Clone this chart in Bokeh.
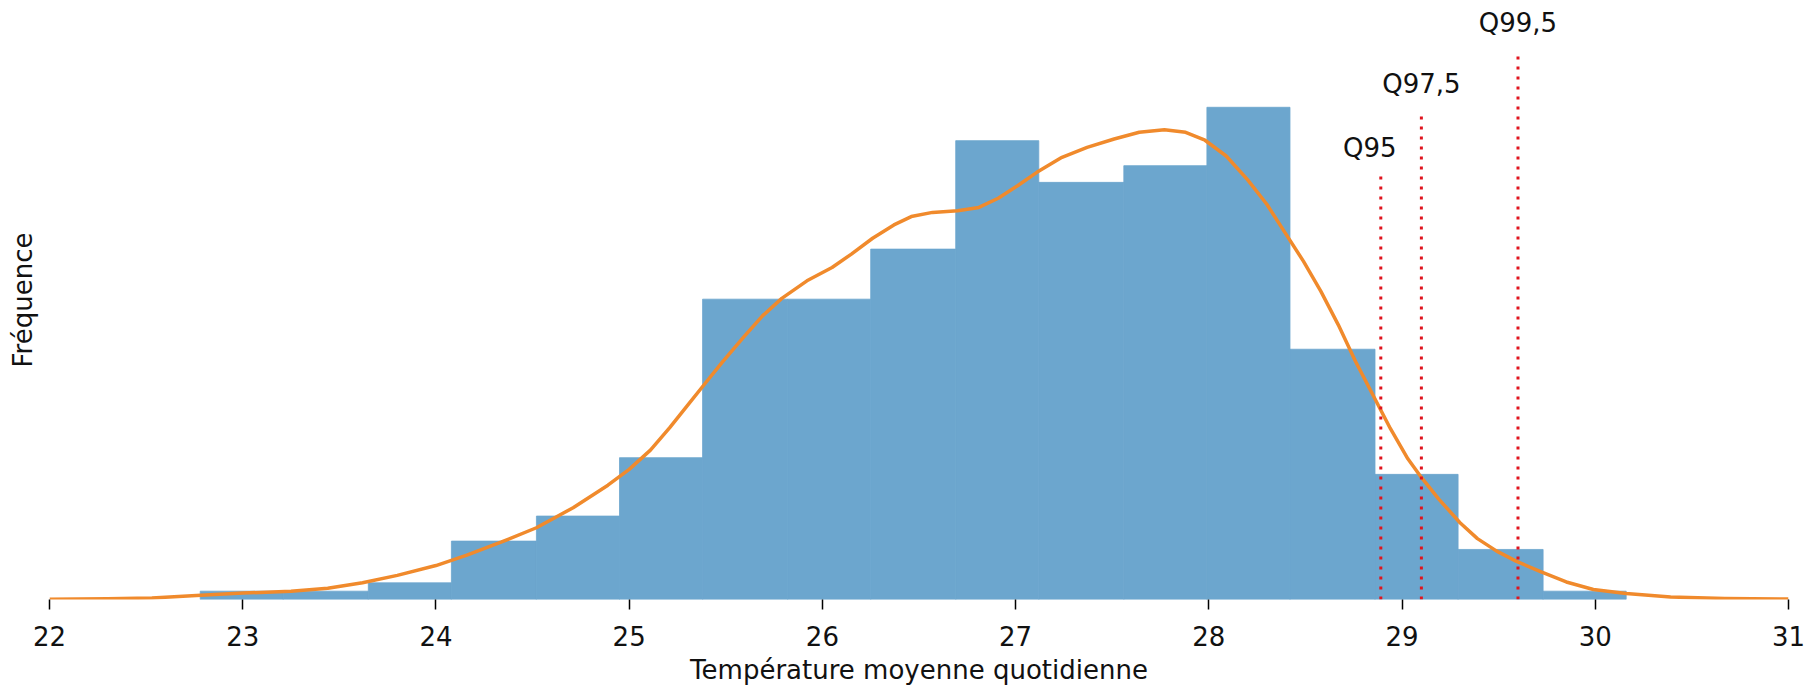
from bokeh.plotting import figure
from bokeh.models import Range1d, FixedTicker, ColumnDataSource
from bokeh.embed import file_html
from bokeh.resources import INLINE
from bokeh.core.properties import value

# ---------------- data ----------------
bin_edges = [22.78, 23.21, 23.65, 24.08, 24.52, 24.95, 25.38, 25.82, 26.25,
             26.69, 27.12, 27.56, 27.99, 28.42, 28.86, 29.29, 29.73, 30.16]
counts = [1, 1, 2, 7, 10, 17, 36, 36, 42, 55, 50, 52, 59, 30, 15, 6, 1]

kde_x = [22.0, 22.3, 22.53, 22.76, 23.0, 23.25, 23.44, 23.62, 23.8, 24.0,
         24.16, 24.34, 24.52, 24.71, 24.89, 25.0, 25.11, 25.21, 25.3, 25.4,
         25.48, 25.59, 25.69, 25.79, 25.92, 26.05, 26.15, 26.26, 26.37, 26.46,
         26.57, 26.7, 26.81, 26.91, 27.01, 27.11, 27.24, 27.37, 27.51, 27.64,
         27.77, 27.88, 27.98, 28.09, 28.2, 28.3, 28.39, 28.49, 28.58, 28.67,
         28.76, 28.85, 28.94, 29.03, 29.1, 29.19, 29.3, 29.39, 29.49, 29.59,
         29.72, 29.85, 29.99, 30.16, 30.39, 30.67, 31.0]
kde_y = [0.03, 0.09, 0.18, 0.47, 0.77, 1.0, 1.36, 2.0, 2.89, 4.07,
         5.31, 6.9, 8.6, 11.0, 13.7, 15.6, 17.9, 20.6, 23.2, 26.1,
         28.4, 31.4, 34.0, 36.1, 38.2, 39.8, 41.4, 43.3, 44.9, 45.9,
         46.4, 46.6, 47.0, 48.1, 49.6, 51.2, 53.0, 54.2, 55.2, 56.0,
         56.3, 56.0, 55.05, 53.16, 50.33, 47.38, 44.13, 40.53, 36.93, 32.92,
         28.5, 24.49, 20.47, 16.87, 14.63, 12.04, 9.2, 7.3, 5.8, 4.6,
         3.3, 2.1, 1.2, 0.71, 0.3, 0.12, 0.06]

quantile_labels = ["Q95", "Q97,5", "Q99,5"]
quantile_values = [28.89, 29.10, 29.60]
quantile_line_tops = [50.8, 58.4, 65.7]

x_ticks = [22, 23, 24, 25, 26, 27, 28, 29, 30, 31]
x_label = "Température moyenne quotidienne"
y_label = "Fréquence"

# ---------------- styling ----------------
FONT = "DejaVu Sans"
FS = "26px"
TEXT_COLOR = "#111111"
BAR = "#6CA6CE"

hist_src = ColumnDataSource(dict(left=bin_edges[:-1], right=bin_edges[1:],
                                 top=counts, bottom=[0] * len(counts)))
kde_src = ColumnDataSource(dict(x=kde_x, y=kde_y))
q_src = ColumnDataSource(dict(x=quantile_values, top=quantile_line_tops,
                              base=[0] * len(quantile_values),
                              label=quantile_labels,
                              xoff=[-11, 0, 0]))

p = figure(width=1807, height=687,
           x_range=Range1d(22, 31), y_range=Range1d(0, 71.8),
           output_backend="svg", toolbar_location=None,
           min_border_left=49, min_border_right=19,
           min_border_top=0, min_border_bottom=88)
p.outline_line_color = None
p.xgrid.visible = False
p.ygrid.visible = False
p.background_fill_color = "white"
p.border_fill_color = "white"

p.quad(left="left", right="right", top="top", bottom="bottom", source=hist_src,
       fill_color=BAR, line_color=BAR, line_width=0.8)
p.line("x", "y", source=kde_src, line_color="#F08A2C", line_width=3.5,
       line_join="round")
p.segment(x0="x", y0="base", x1="x", y1="top", source=q_src,
          line_color="#E0141E", line_width=3, line_dash="3 7")
p.text(x="x", y="top", text="label", source=q_src, x_offset="xoff", y_offset=-28,
       text_align="center", text_baseline="middle",
       text_font=value(FONT), text_font_size=FS, text_color=TEXT_COLOR)

xa = p.xaxis[0]
xa.ticker = FixedTicker(ticks=x_ticks)
xa.axis_line_color = None
xa.major_tick_out = 10
xa.major_tick_in = 0
xa.minor_tick_out = 0
xa.minor_tick_in = 0
xa.major_tick_line_color = "black"
xa.major_tick_line_width = 1.5
xa.major_label_text_font = FONT
xa.major_label_text_font_size = FS
xa.major_label_text_color = TEXT_COLOR
xa.major_label_standoff = 16
xa.axis_label = x_label
xa.axis_label_text_font = FONT
xa.axis_label_text_font_size = FS
xa.axis_label_text_font_style = "normal"
xa.axis_label_text_color = TEXT_COLOR
xa.axis_label_standoff = 6

ya = p.yaxis[0]
ya.ticker = FixedTicker(ticks=[])
ya.axis_line_color = None
ya.major_tick_line_color = None
ya.minor_tick_line_color = None
ya.axis_label = y_label
ya.axis_label_text_font = FONT
ya.axis_label_text_font_size = FS
ya.axis_label_text_font_style = "normal"
ya.axis_label_text_color = TEXT_COLOR
ya.axis_label_standoff = 12

open("out.html", "w").write(file_html(p, INLINE))
